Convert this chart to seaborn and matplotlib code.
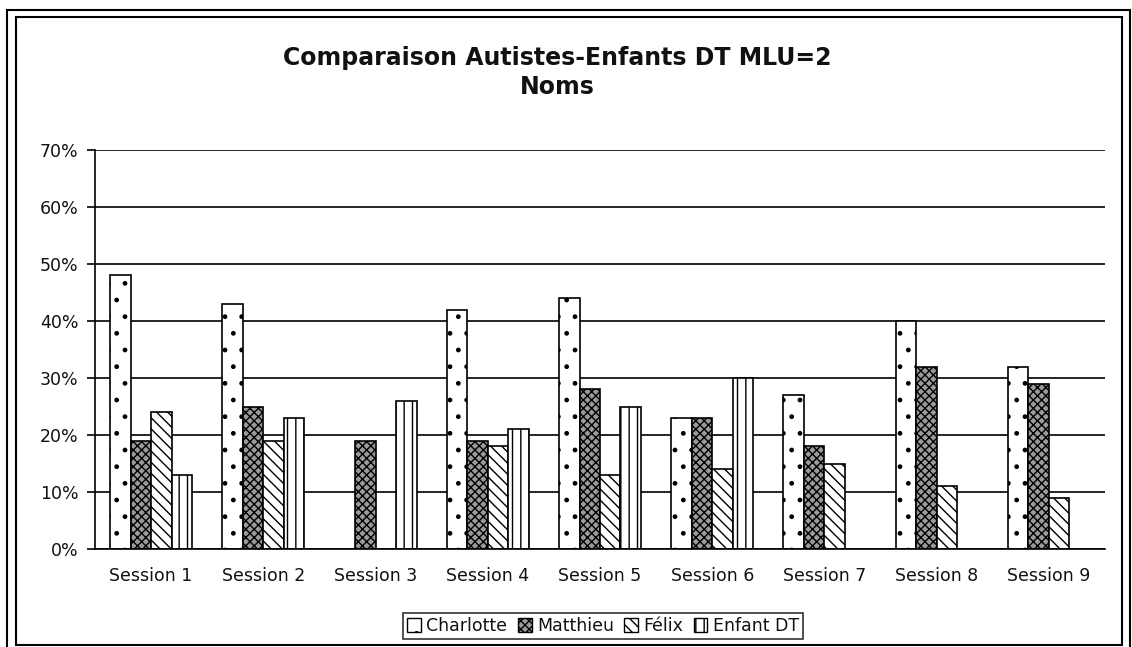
import numpy as np
import pandas as pd
import matplotlib
matplotlib.use('Agg')
import matplotlib.pyplot as plt
from matplotlib.patches import Rectangle, Patch
import seaborn as sns

sessions = ['Session 1', 'Session 2', 'Session 3', 'Session 4', 'Session 5',
            'Session 6', 'Session 7', 'Session 8', 'Session 9']
children = ['Charlotte', 'Matthieu', 'Félix', 'Enfant DT']

charlotte = [48, 43, np.nan, 42, 44, 23, 27, 40, 32]
matthieu  = [19, 25, 19, 19, 28, 23, 18, 32, 29]
felix     = [24, 19, np.nan, 18, 13, 14, 15, 11, 9]
enfant_dt = [13, 23, 26, 21, 25, 30, np.nan, np.nan, np.nan]

def make_plot():
    df = pd.DataFrame({'Session': sessions * 4,
                       'Enfant': np.repeat(children, len(sessions)),
                       'Pourcentage': charlotte + matthieu + felix + enfant_dt})

    sns.set_style('white')
    plt.rcParams['font.family'] = ['DejaVu Sans']
    plt.rcParams['text.color'] = '#111111'
    plt.rcParams['xtick.color'] = '#111111'
    plt.rcParams['ytick.color'] = '#111111'
    plt.rcParams['hatch.linewidth'] = 1.0

    fig = plt.figure(figsize=(11.32, 6.47), dpi=100)
    ax = fig.add_axes([95 / 1132, 1 - 549 / 647, (1105 - 95) / 1132, (549 - 150) / 647])

    sns.barplot(data=df, x='Session', y='Pourcentage', hue='Enfant',
                order=sessions, hue_order=children, width=0.73,
                errorbar=None, ax=ax, legend=False)

    styles = {'Charlotte': dict(facecolor='white', hatch='.'),
              'Matthieu':  dict(facecolor='#9a9a9a', hatch='xxxx'),
              'Félix':     dict(facecolor='white', hatch='\\\\\\'),
              'Enfant DT': dict(facecolor='white', hatch='||')}
    for name, container in zip(children, ax.containers):
        for bar in container:
            bar.set_facecolor(styles[name]['facecolor'])
            bar.set_hatch(styles[name]['hatch'])
            bar.set_edgecolor('black')
            bar.set_linewidth(1.2)

    ax.set_ylim(0, 70)
    ax.set_yticks(range(0, 71, 10))
    ax.set_yticklabels([f'{v}%' for v in range(0, 71, 10)], fontsize=12.5)
    ax.set_xlim(-0.5, len(sessions) - 0.5)
    ax.set_xticks(np.arange(len(sessions) + 1) - 0.5, minor=True)
    ax.set_xticks(range(len(sessions)))
    ax.set_xticklabels(sessions, fontsize=12.5)
    ax.tick_params(axis='x', which='major', length=0, pad=13)
    ax.tick_params(axis='x', which='minor', length=5, width=1.2, color='black', direction='out')
    ax.tick_params(axis='y', length=6, width=1.2, color='black', direction='out', left=True, pad=6)
    ax.set_xlabel('')
    ax.set_ylabel('')
    ax.yaxis.grid(True, color='black', linewidth=1.2)
    ax.set_axisbelow(True)
    for side in ['top', 'right']:
        ax.spines[side].set_visible(False)
    for side in ['left', 'bottom']:
        ax.spines[side].set_color('black')
        ax.spines[side].set_linewidth(1.2)

    fig.text(0.492, 1 - 58 / 647, 'Comparaison Autistes-Enfants DT MLU=2',
             ha='center', va='center', fontsize=17, fontweight='bold')
    fig.text(0.492, 1 - 87 / 647, 'Noms',
             ha='center', va='center', fontsize=17, fontweight='bold')

    handles = [Patch(facecolor=styles[n]['facecolor'], hatch=styles[n]['hatch'],
                     edgecolor='black') for n in children]
    leg = fig.legend(handles, children, loc='center', ncol=4,
                     bbox_to_anchor=(603 / 1132, 1 - 626 / 647), fontsize=12.5,
                     frameon=True, fancybox=False, handlelength=0.8, handleheight=0.8,
                     handletextpad=0.3, columnspacing=0.6, borderpad=0.25)
    leg.get_frame().set_edgecolor('black')
    leg.get_frame().set_linewidth(1.2)

    fig.patches.append(Rectangle((7 / 1132, -0.01), (1130 - 7) / 1132, 1 - 10 / 647 + 0.01,
                                 transform=fig.transFigure, fill=False,
                                 edgecolor='black', linewidth=1.5))
    fig.patches.append(Rectangle((16 / 1132, 2 / 647), (1122 - 16) / 1132, (645 - 17) / 647,
                                 transform=fig.transFigure, fill=False,
                                 edgecolor='black', linewidth=1.5))

    fig.savefig('out.png', dpi=100)

if __name__ == '__main__':
    make_plot()
